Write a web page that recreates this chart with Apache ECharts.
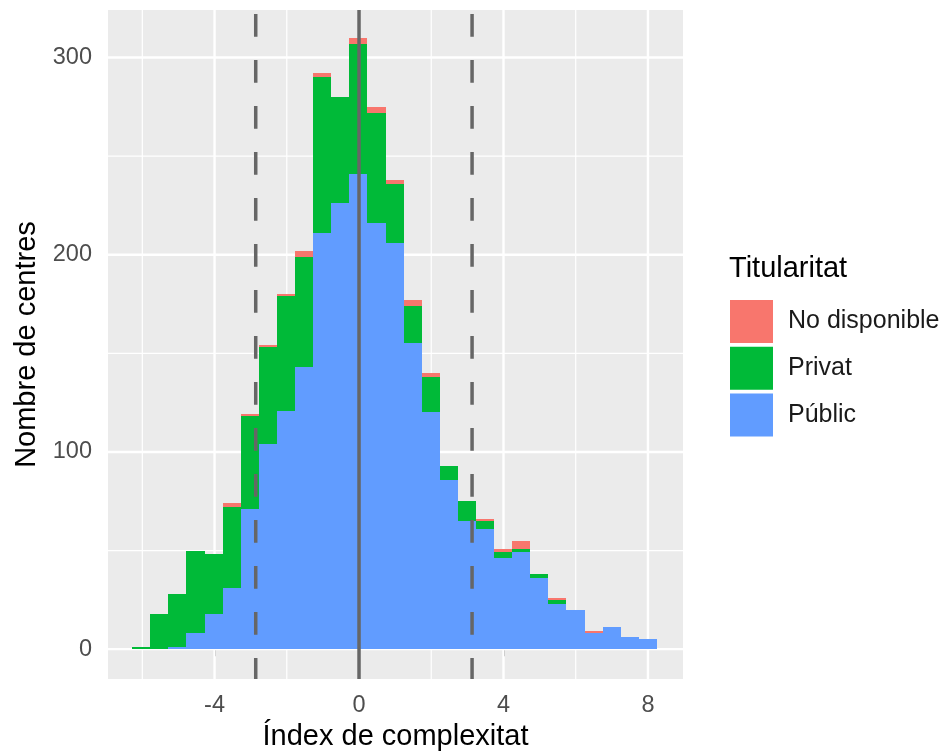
<!DOCTYPE html>
<html>
<head>
<meta charset="utf-8">
<script src="https://cdn.jsdelivr.net/npm/echarts@6/dist/echarts.min.js"></script>
<style>
html,body{margin:0;padding:0;background:#fff;}
#chart{width:942px;height:756px;}
</style>
</head>
<body>
<div id="chart"></div>
<script>
// ---- data ----
const binCenters = [-6.03,-5.529,-5.028,-4.527,-4.026,-3.525,-3.024,-2.523,-2.022,-1.521,-1.02,-0.519,-0.018,0.483,0.984,1.485,1.986,2.487,2.988,3.489,3.99,4.491,4.992,5.493,5.994,6.495,6.996,7.497,7.998];
const binWidth = 0.501;
const publicVals = [0,0,1,8,18,31,71,104,121,143,211,226,241,216,206,155,120,86,65,61,46,49,36,23,20,8,11,6,5];
const privatVals = [1,18,27,42,30,41,47,49,58,56,79,54,66,56,30,19,18,7,10,4,3,2,2,2,0,0,0,0,0];
const noDispVals = [0,0,0,0,0,2,1,1,1,3,2,0,3,3,2,3,2,0,0,1,2,4,0,1,0,1,0,0,0];
const categories = ['No disponible','Privat','Públic'];
const solidLines = [0];
const dashedLines = [-2.86, 3.13];
const xTicks = [-4,0,4,8];
const xMinor = [-6,-2,2,6];
const yTicks = [0,100,200,300];
const yMinor = [50,150,250];

const X_MIN = -6.95, X_MAX = 8.97, Y_MIN = -15.2, Y_MAX = 324.1;
const colors = {'No disponible':'#F8766D','Privat':'#00BA38','Públic':'#619CFF'};
const FONT = '"Liberation Sans", Arial, sans-serif';

// stacked ranges
function stackData(idx) {
  const out = [];
  for (let i = 0; i < binCenters.length; i++) {
    const p = publicVals[i], v = privatVals[i], n = noDispVals[i];
    let lo, hi;
    if (idx === 2) { lo = 0; hi = p; }
    else if (idx === 1) { lo = p; hi = p + v; }
    else { lo = p + v; hi = p + v + n; }
    out.push([binCenters[i], lo, hi]);
  }
  return out;
}

function barRender(color) {
  return function (params, api) {
    const c = api.value(0), lo = api.value(1), hi = api.value(2);
    if (hi <= lo) return null;
    const a = api.coord([c - binWidth / 2, hi]);
    const b = api.coord([c + binWidth / 2, lo]);
    const x1 = Math.round(a[0]), x2 = Math.round(b[0]);
    const y1 = Math.round(a[1]), y2 = Math.round(b[1]);
    return {type:'rect', shape:{x:x1, y:y1, width:x2-x1, height:Math.max(1, y2-y1)}, style:{fill:color}};
  };
}

const gridData = [];
xTicks.forEach(v => gridData.push([v, 1, 0]));
xMinor.forEach(v => gridData.push([v, 0, 0]));
yTicks.forEach(v => gridData.push([v, 1, 1]));
yMinor.forEach(v => gridData.push([v, 0, 1]));

const vlineData = [];
solidLines.forEach(v => vlineData.push([v, 0]));
dashedLines.forEach(v => vlineData.push([v, 1]));

const series = [];
series.push({
  type:'custom', name:'grid', silent:true, z:1,
  data: gridData,
  renderItem: function (params, api) {
    const v = api.value(0), major = api.value(1), isY = api.value(2);
    let p1, p2;
    if (isY) { p1 = api.coord([X_MIN, v]); p2 = api.coord([X_MAX, v]); }
    else { p1 = api.coord([v, Y_MIN]); p2 = api.coord([v, Y_MAX]); }
    return {type:'line', shape:{x1:p1[0], y1:p1[1], x2:p2[0], y2:p2[1]},
      style:{stroke:'#ffffff', lineWidth: major ? 2.4 : 1.2}};
  }
});
categories.forEach((name, idx) => {
  series.push({
    type:'custom', name:name, z:2,
    itemStyle:{color:colors[name]},
    data: stackData(idx),
    renderItem: barRender(colors[name]),
    clip:true
  });
});
series.push({
  type:'custom', name:'vlines', silent:true, z:3,
  data: vlineData,
  renderItem: function (params, api) {
    const v = api.value(0), dashed = api.value(1);
    const p1 = api.coord([v, Y_MAX]), p2 = api.coord([v, Y_MIN]);
    const style = {stroke:'#666666', lineWidth:3.5};
    if (dashed) { style.lineDash = [22.7, 23.3]; style.lineDashOffset = 42; }
    return {type:'line', shape:{x1:p1[0], y1:p1[1], x2:p2[0], y2:p2[1]}, style:style};
  }
});

const chart = echarts.init(document.getElementById('chart'), null, {renderer:'canvas'});
chart.setOption({
  animation:false,
  backgroundColor:'#ffffff',
  grid:{left:108, right:259, top:10, bottom:75, show:true, backgroundColor:'#EBEBEB', borderWidth:0},
  xAxis:{
    type:'value', min:X_MIN, max:X_MAX,
    name:'Índex de complexitat', nameLocation:'middle', nameGap:42,
    nameTextStyle:{fontFamily:FONT, fontSize:29, color:'#000000'},
    axisLine:{show:false},
    splitLine:{show:false},
    axisTick:{show:true, length:7, lineStyle:{color:'#333333', width:1.5}, customValues:xTicks},
    axisLabel:{fontFamily:FONT, fontSize:23.5, color:'#4D4D4D', margin:14, customValues:xTicks}
  },
  yAxis:{
    type:'value', min:Y_MIN, max:Y_MAX,
    name:'Nombre de centres', nameLocation:'middle', nameGap:67, nameRotate:90,
    nameTextStyle:{fontFamily:FONT, fontSize:29, color:'#000000'},
    axisLine:{show:false},
    splitLine:{show:false},
    axisTick:{show:true, length:7, lineStyle:{color:'#333333', width:1.5}, customValues:yTicks},
    axisLabel:{fontFamily:FONT, fontSize:23.5, color:'#4D4D4D', margin:16, customValues:yTicks}
  },
  legend:{
    orient:'vertical', left:730, top:300, padding:0,
    itemWidth:43, itemHeight:43, itemGap:3.7,
    icon:'rect',
    data:categories,
    selectedMode:false,
    textStyle:{fontFamily:FONT, fontSize:25, color:'#1A1A1A', padding:[0,0,0,10]}
  },
  graphic:[{
    type:'text', left:729, top:254,
    style:{text:'Titularitat', font:'29px "Liberation Sans", Arial, sans-serif', fill:'#000000'}
  }],
  series: series
});
</script>
</body>
</html>
